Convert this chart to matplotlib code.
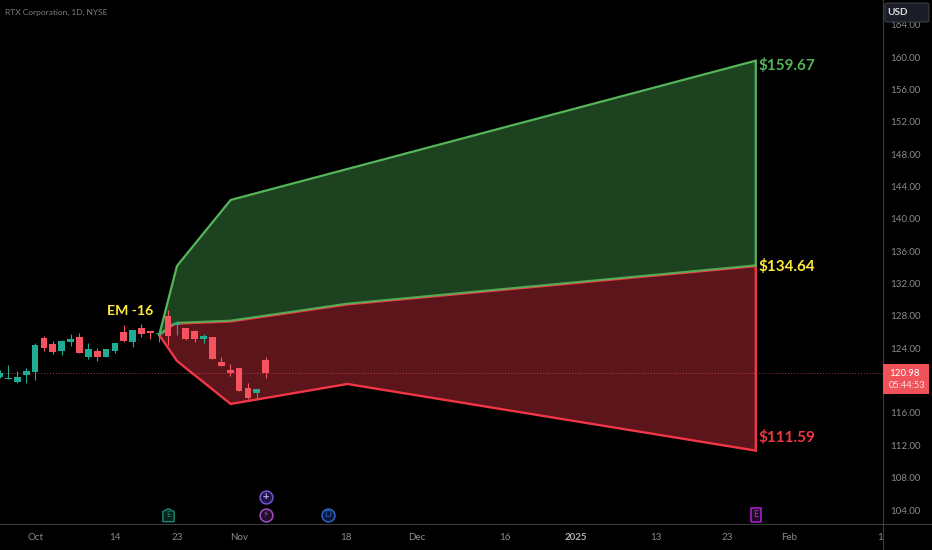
import matplotlib
matplotlib.use("Agg")
import matplotlib.pyplot as plt
from matplotlib.patches import FancyBboxPatch, Rectangle
from matplotlib.lines import Line2D
from matplotlib.path import Path
from matplotlib.transforms import Bbox

plt.rcParams['font.family'] = ['Lato', 'DejaVu Sans']

# ---- data -------------------------------------------------------------
title = "RTX Corporation, 1D, NYSE"
bar_index = list(range(-20, 11))
opens = [120.49, 120.20, 119.83, 120.70, 121.10, 125.31, 124.53, 123.70, 124.78, 125.43, 122.96,
         123.66, 122.96, 123.70, 125.97, 124.78, 126.51, 126.17, 125.76, 128.03, 126.91, 126.51,
         126.10, 125.18, 125.43, 122.34, 121.35, 121.56, 119.05, 118.43, 122.59]
closes = [120.98, 120.33, 120.41, 121.19, 124.40, 124.00, 123.58, 124.90, 125.11, 123.42, 123.95,
          122.88, 123.91, 124.69, 124.94, 126.26, 125.76, 125.92, 125.89, 125.52, 127.16, 125.15,
          125.11, 125.48, 122.71, 121.81, 120.91, 118.72, 117.85, 119.00, 120.94]
highs = [121.31, 121.93, 121.23, 121.56, 124.61, 125.52, 124.94, 125.02, 125.76, 125.92, 124.69,
         124.03, 123.95, 124.69, 126.88, 126.26, 127.00, 126.17, 126.01, 128.73, 127.33, 126.55,
         126.26, 125.76, 125.43, 122.88, 122.06, 121.56, 119.67, 119.00, 122.88]
lows = [120.33, 120.20, 119.74, 119.71, 120.08, 123.70, 123.26, 123.17, 124.28, 123.38, 122.64,
        122.46, 122.90, 123.38, 124.74, 124.19, 125.36, 125.15, 124.81, 124.40, 125.64, 125.02,
        124.81, 124.69, 122.71, 121.81, 120.61, 118.72, 117.73, 117.77, 120.36]

upper_x = [-2, 0, 6.05, 65.25]
upper_y = [125.64, 134.17, 142.33, 159.55]
mid_x = [-2, -0.5, 0, 6.05, 19.2, 65.25]
mid_y = [125.64, 126.9, 127.1, 127.37, 129.47, 134.21]
lower_x = [-2, 0, 6.05, 19.2, 65.25]
lower_y = [125.64, 122.43, 117.11, 119.58, 111.34]

last_price = 120.98
countdown = "05:44:53"
price_ticks = [104, 108, 112, 116, 124, 128, 132, 136, 140, 144, 148, 152, 156, 160, 164]
time_ticks = [-16, -7, 0, 7, 19, 27, 37, 45, 54, 62, 69, 79.55]
time_labels = ["Oct", "14", "23", "Nov", "18", "Dec", "16", "2025", "13", "23", "Feb", "18"]
target_labels = ["$159.67", "$134.64", "$111.59"]
em_label = "EM -16"

# ---- colours ----------------------------------------------------------
UP = "#22AB94"; DOWN = "#F7525F"; GREY = "#8a8a8a"; LINE = "#3c3c3c"
GREEN = "#55B559"; RED = "#F23645"; YEL = "#FFEB3B"

W, H = 932, 550
fig = plt.figure(figsize=(W / 100, H / 100), dpi=100, facecolor="black")
ax = fig.add_axes([0, 26 / H, 883 / W, 524 / H], facecolor="black")
ax.set_xlim(-19.95, 79.59)
ax.set_ylim(102.27, 167.05)
for s in ax.spines.values():
    s.set_visible(False)

# target fills
ax.fill(upper_x + mid_x[::-1], upper_y + mid_y[::-1], color="#1c4220", lw=0, zorder=1)
ax.fill(mid_x + lower_x[::-1], mid_y + lower_y[::-1], color="#5c161b", lw=0, zorder=1)

# price line
ax.axhline(last_price, color=DOWN, lw=0.7, ls=(0, (1, 2)), alpha=0.65, zorder=2)

# boundaries
ax.plot(lower_x + [65.25], lower_y + [mid_y[-1]], color=RED, lw=1.7, zorder=3, solid_joinstyle="miter")
ax.plot(mid_x, [v - 0.08 for v in mid_y], color=RED, lw=1.4, zorder=3)
ax.plot(upper_x + [65.25], upper_y + [mid_y[-1]], color=GREEN, lw=1.6, zorder=4, solid_joinstyle="miter")
ax.plot(mid_x, [v + 0.04 for v in mid_y], color=GREEN, lw=1.5, alpha=0.9, zorder=4)

# candles
for i, o, c, h, l in zip(bar_index, opens, closes, highs, lows):
    col = UP if c >= o else DOWN
    ax.vlines(i, l, h, color=col, lw=0.8, zorder=5)
    ax.bar(i, abs(c - o), bottom=min(o, c), width=0.76, color=col, lw=0, zorder=6)

# axis ticks
ax.yaxis.tick_right()
ax.set_yticks(price_ticks)
ax.set_yticklabels([f"{v:.2f}" for v in price_ticks], color=GREY, fontsize=7)
ax.tick_params(axis="y", length=0, pad=5)
ax.set_xticks(time_ticks)
ax.set_xticklabels(time_labels, color=GREY, fontsize=7)
ax.tick_params(axis="x", length=0, pad=6.5)
ax.get_xticklabels()[7].set_fontweight("bold")
ax.get_xticklabels()[7].set_color("#b0b0b0")
last = ax.get_xticklabels()[-1]
last.set_clip_on(True)
last.set_clip_box(Bbox.from_extents(0, 0, 883, 30))

# frame lines spanning the whole picture
fig.add_artist(Line2D([0, 1], [26 / H, 26 / H], color=LINE, lw=0.8))
fig.add_artist(Line2D([883 / W, 883 / W], [0, 1], color=LINE, lw=0.8))


def fx(px):
    return px / W


def fy(py):
    return 1 - py / H


# title and labels
fig.text(fx(5), fy(12), title, color="#7d7d7d", fontsize=6, va="center", ha="left")
ax.text(-5.25, 128.6, em_label, color=YEL, fontsize=10.2, fontweight="bold", ha="center", va="center", zorder=8)
for label, price, col in zip(target_labels, [upper_y[-1], mid_y[-1], lower_y[-1]], [GREEN, YEL, RED]):
    ax.annotate(label, (65.25, price), xytext=(2, -3.6 if col == GREEN else (-0.6 if col == YEL else 9.6)),
                textcoords="offset points", color=col,
                fontsize=11, fontweight="bold", ha="left", va="center", zorder=8)

# USD button
fig.add_artist(FancyBboxPatch((fx(885), fy(22)), 44 / W, 19 / H, boxstyle="round,pad=0,rounding_size=0.003",
                              fc="#1a1d27", ec="#3a3d48", lw=0.8, transform=fig.transFigure, zorder=5))
fig.text(fx(898), fy(12.5), "USD", color="#dcdcdc", fontsize=7.2, fontweight="bold", ha="center", va="center", zorder=6)

# last price tag
fig.add_artist(Rectangle((fx(883), fy(394)), 46 / W, 30 / H, fc="#F0525A", ec="none",
                         transform=fig.transFigure, zorder=5))
fig.text(fx(889), fy(373), f"{last_price:.2f}", color="white", fontsize=7, ha="left", va="center", zorder=6)
fig.text(fx(889), fy(386), countdown, color="#ffe3e3", fontsize=6.6, ha="left", va="center", zorder=6)

# event markers
house = Path([(-1, -1.1), (1, -1.1), (1, 0.7), (0, 1.2), (-1, 0.7), (-1, -1.1)])
square = Path([(-0.8, -1), (0.8, -1), (0.8, 1), (-0.8, 1), (-0.8, -1)])
ev_low = 103.4
ev_high = 105.62
ax.scatter([-1], [ev_low], s=95, marker=house, fc="#06231e", ec="#1c8a70", lw=1.0, zorder=7)
ax.text(-1, ev_low, "E", color="#1c8a70", fontsize=5.8, ha="center", va="center", zorder=8)
ax.scatter([10], [ev_high], s=85, marker="o", fc="#1f1446", ec="#7a52d8", lw=1.1, zorder=7)
ax.text(10, ev_high, "+", color="#b9a2f0", fontsize=8, fontweight="bold", ha="center", va="center", zorder=8)
ax.scatter([10], [ev_low], s=85, marker="o", fc="#220d2b", ec="#a04fc0", lw=1.1, zorder=7)
ax.text(10, ev_low, "\u26a1", color="#a04fc0", fontsize=6.5, ha="center", va="center",
        zorder=8, family="DejaVu Sans")
ax.scatter([17], [ev_low], s=85, marker="o", fc="#0a1838", ec="#2f63c8", lw=1.1, zorder=7)
ax.text(17, ev_low, "D", color="#2f63c8", fontsize=6.5, ha="center", va="center", zorder=8)
ax.scatter([65.25], [ev_low], s=88, marker=square, fc="#230929", ec="#b020d0", lw=1.1, zorder=7)
ax.text(65.25, ev_low, "E", color="#8a50a8", fontsize=6.5, ha="center", va="center", zorder=8)

fig.savefig("out.png", dpi=100, facecolor="black")
